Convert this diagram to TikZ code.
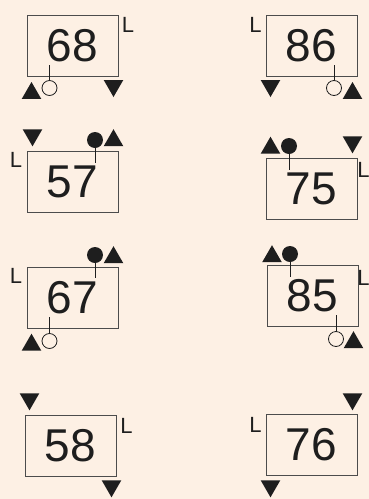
\documentclass[tikz,border=0pt]{standalone}
\usepackage{fontspec}
\setmainfont{Liberation Sans}
\usepackage{tikz}
\usetikzlibrary{shapes.geometric}
\definecolor{peach}{HTML}{FDF0E4}
\definecolor{ink}{HTML}{1E1E1E}

\begin{document}
\begin{tikzpicture}[x=1pt, y=-1pt,
	box/.style={draw=black!70, line width=0.9pt, rectangle, minimum width=91pt, minimum height=61pt, inner sep=0pt, font=\fontsize{46}{46}\selectfont, text=ink},
	ell/.style={inner sep=0pt, font=\fontsize{22}{22}\selectfont, text=ink},
	tup/.style={regular polygon, regular polygon sides=3, fill=ink, inner sep=0pt, minimum size=22.6pt},
	tdown/.style={tup, shape border rotate=180},
	hole/.style={circle, draw=ink, line width=0.8pt, fill=peach, inner sep=0pt, minimum size=15pt},
	dot/.style={circle, fill=ink, inner sep=0pt, minimum size=16pt},
	stem/.style={draw=ink, line width=0.8pt}]

	\fill[peach] (0,0) rectangle (369,499);
	\useasboundingbox (0,0) rectangle (369,499);

	% left column
	\node[box] (b68) at (72.5, 45.5) {68};
	\node[ell] (L68) at (128, 24.5) {L};
	\node[hole] (o68) at (49.5, 88) {};
	\node[tup] (u68) at (31.5, 93.3) {};
	\node[tdown] (d68) at (113.5, 85.7) {};

	\node[box] (b57) at (72.5, 182) {57};
	\node[ell] (L57) at (16, 160) {L};
	\node[tdown] (d57) at (32.5, 135) {};
	\node[dot] (p57) at (95, 140) {};
	\node[tup] (u57) at (113.5, 140.5) {};

	\node[box] (b67) at (72.5, 298) {67};
	\node[ell] (L67) at (16, 276) {L};
	\node[dot] (p67) at (95, 255) {};
	\node[tup] (u67) at (113.5, 257.5) {};
	\node[hole] (o67) at (49.5, 341) {};
	\node[tup] (v67) at (31.5, 345) {};

	\node[box] (b58) at (70.5, 445.5) {58};
	\node[ell] (L58) at (126.5, 425.5) {L};
	\node[tdown] (d58) at (29.5, 399) {};
	\node[tdown] (e58) at (111.5, 486) {};

	% right column
	\node[box] (b86) at (311.5, 45.5) {86};
	\node[ell] (L86) at (255.5, 24.5) {L};
	\node[tdown] (d86) at (270.5, 85.7) {};
	\node[hole] (o86) at (334, 88) {};
	\node[tup] (u86) at (352.5, 93.3) {};

	\node[box] (b75) at (311.5, 189) {75};
	\node[ell] (L75) at (363.5, 170) {L};
	\node[tup] (u75) at (270.5, 148) {};
	\node[dot] (p75) at (289, 146) {};
	\node[tdown] (d75) at (352.5, 142) {};

	\node[box] (b85) at (312.5, 296) {85};
	\node[ell] (L85) at (363.5, 278) {L};
	\node[tup] (u85) at (272, 256.5) {};
	\node[dot] (p85) at (290, 254) {};
	\node[hole] (o85) at (336, 339) {};
	\node[tup] (v85) at (353.5, 342.5) {};

	\node[box] (b76) at (311.5, 445) {76};
	\node[ell] (L76) at (255.5, 425) {L};
	\node[tdown] (d76) at (352.5, 399) {};
	\node[tdown] (e76) at (270.5, 486) {};

	% stems
	\draw[stem] (o68.north) -- ++(0,-15.5);
	\draw[stem] (p57.center) -- ++(0,23);
	\draw[stem] (p67.center) -- ++(0,23);
	\draw[stem] (o67.north) -- ++(0,-16.5);
	\draw[stem] (o86.north) -- ++(0,-15.5);
	\draw[stem] (p75.center) -- ++(0,24);
	\draw[stem] (p85.center) -- ++(0,23);
	\draw[stem] (o85.north) -- ++(0,-16.5);
\end{tikzpicture}
\end{document}
